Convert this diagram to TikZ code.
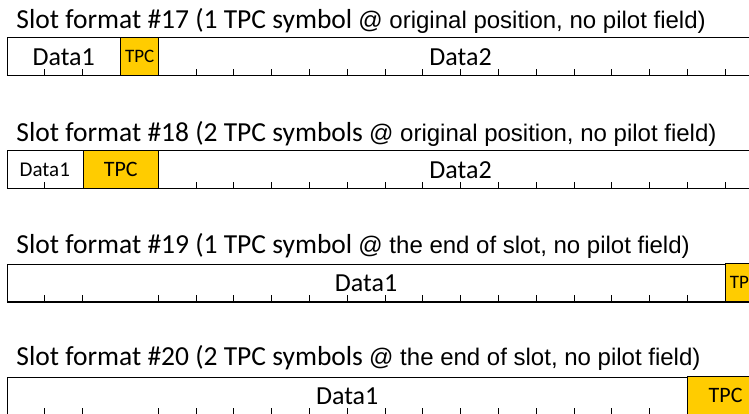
\documentclass[tikz,border=0pt]{standalone}
\usepackage{fontspec}
\setmainfont{Carlito}
\newfontfamily\arialfont{Liberation Sans}
\definecolor{tpcgold}{HTML}{FFCC00}

\begin{document}
\begin{tikzpicture}[x=37.8pt,y=37.8pt,line width=0.8pt,
  title/.style={anchor=base west,inner sep=0pt,font=\fontsize{27.5}{30}\selectfont},
  field/.style={inner sep=0pt,font=\fontsize{26}{30}\selectfont},
  tpcbox/.style={draw=black,fill=tpcgold,anchor=south west,inner sep=0pt,
    minimum height=37.8pt,font=\fontsize{22}{26}\selectfont},
  tick/.style={line width=0.8pt}]
  \useasboundingbox (-0.185,0) rectangle (19.63,10.952);
  \clip (-0.185,0) rectangle (19.63,10.952);

  % slot format 17: one TPC symbol after Data1
  \node[title] (t17) at (0.24,10.21)
    {Slot format \#17 (1 TPC symbol {\arialfont\fontsize{24}{28}\selectfont @ original position, no pilot field)}};
  \draw (0,8.95) rectangle (20,9.95);
  \draw[line width=1.6pt] (0,8.95) -- (20,8.95);
  \node[tpcbox,minimum width=37.8pt,font=\fontsize{19}{22}\selectfont] (tpc17) at (3,8.95) {TPC};
  \node[field] (d17a) at (1.5,9.45) {Data1};
  \node[field] (d17b) at (12,9.45) {Data2};
  \foreach \k in {1,2,4,5,...,19}
    \draw[tick] (\k,8.95) -- ++(0,0.185);

  % slot format 18: two TPC symbols after Data1
  \node[title] (t18) at (0.24,7.22)
    {Slot format \#18 (2 TPC symbols {\arialfont\fontsize{24}{28}\selectfont @ original position, no pilot field)}};
  \draw (0,5.96) rectangle (20,6.96);
  \draw[line width=1.6pt] (0,5.96) -- (20,5.96);
  \node[tpcbox,minimum width=75.6pt] (tpc18) at (2,5.96) {TPC};
  \node[field,font=\fontsize{21}{24}\selectfont] (d18a) at (1,6.46) {Data1};
  \node[field] (d18b) at (12,6.46) {Data2};
  \foreach \k in {1,5,6,...,19}
    \draw[tick] (\k,5.96) -- ++(0,0.185);

  % slot format 19: one TPC symbol at the end
  \node[title] (t19) at (0.24,4.24)
    {Slot format \#19 (1 TPC symbol {\arialfont\fontsize{24}{28}\selectfont @ the end of slot, no pilot field)}};
  \draw (0,2.97) rectangle (20,3.97);
  \draw[line width=1.6pt] (0,2.97) -- (20,2.97);
  \node[tpcbox,minimum width=37.8pt,font=\fontsize{19}{22}\selectfont] (tpc19) at (19,2.97) {TPC};
  \node[field] (d19a) at (9.5,3.47) {Data1};
  \foreach \k in {1,2,4,5,...,18}
    \draw[tick] (\k,2.97) -- ++(0,0.185);

  % slot format 20: two TPC symbols at the end
  \node[title] (t20) at (0.24,1.27)
    {Slot format \#20 (2 TPC symbols {\arialfont\fontsize{24}{28}\selectfont @ the end of slot, no pilot field)}};
  \draw (0,-0.02) rectangle (20,0.98);
  \draw[line width=1.6pt] (0,-0.02) -- (20,-0.02);
  \node[tpcbox,minimum width=75.6pt] (tpc20) at (18,-0.02) {TPC};
  \node[field] (d20a) at (9,0.48) {Data1};
  \foreach \k in {1,2,4,5,...,17}
    \draw[tick] (\k,-0.02) -- ++(0,0.185);
\end{tikzpicture}
\end{document}
